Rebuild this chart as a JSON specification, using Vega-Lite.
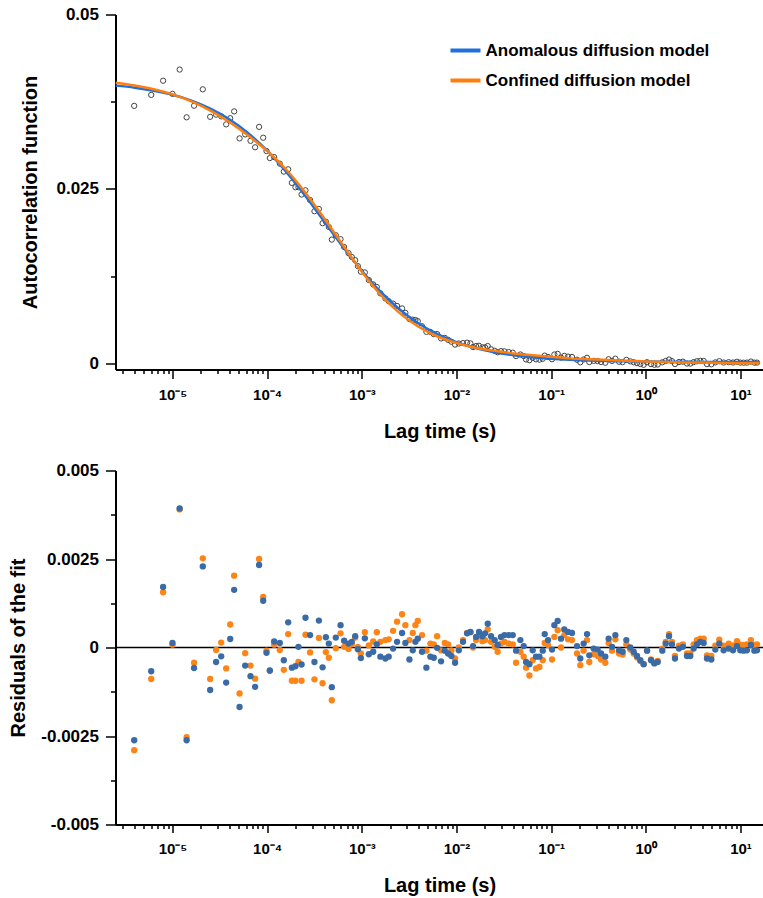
{
  "$schema": "https://vega.github.io/schema/vega-lite/v6.json",
  "padding": {"left": 7.5, "top": 5.5, "right": 0, "bottom": 0},
  "background": "white",
  "spacing": 20,
  "config": {
    "font": "Liberation Sans",
    "view": {"stroke": null},
    "axis": {
      "grid": false,
      "domainColor": "black",
      "domainWidth": 2,
      "tickColor": "black",
      "tickWidth": 1.5,
      "labelFont": "Liberation Sans",
      "labelFontWeight": "bold",
      "labelFontSize": 15,
      "labelColor": "black",
      "titleFont": "Liberation Sans",
      "titleFontWeight": "bold",
      "titleFontSize": 20,
      "titleColor": "black",
      "labelOverlap": false,
      "labelFlush": false
    }
  },
  "datasets": {
    "pts": [
      {"t": 3.94e-6, "g": 0.03691, "b": -0.00262, "o": -0.0029},
      {"t": 5.96e-6, "g": 0.03848, "b": -0.00067, "o": -0.00089},
      {"t": 7.96e-6, "g": 0.04051, "b": 0.00171, "o": 0.00156},
      {"t": 1.0e-5, "g": 0.03863, "b": 0.00013, "o": 0.00008},
      {"t": 1.19e-5, "g": 0.04211, "b": 0.00393, "o": 0.0039},
      {"t": 1.41e-5, "g": 0.03527, "b": -0.00262, "o": -0.00253},
      {"t": 1.69e-5, "g": 0.03693, "b": -0.00058, "o": -0.00043},
      {"t": 2.09e-5, "g": 0.03928, "b": 0.00229, "o": 0.00252},
      {"t": 2.5e-5, "g": 0.03534, "b": -0.0012, "o": -0.00089},
      {"t": 2.89e-5, "g": 0.03565, "b": -0.00041, "o": -0.00007},
      {"t": 3.27e-5, "g": 0.03541, "b": -0.00025, "o": 0.00014},
      {"t": 3.69e-5, "g": 0.03426, "b": -0.00099, "o": -0.00059},
      {"t": 4.07e-5, "g": 0.03514, "b": 0.00024, "o": 0.00065},
      {"t": 4.48e-5, "g": 0.03612, "b": 0.00163, "o": 0.00203},
      {"t": 5.11e-5, "g": 0.03225, "b": -0.00168, "o": -0.0013},
      {"t": 5.86e-5, "g": 0.03282, "b": -0.00051, "o": -0.00016},
      {"t": 6.67e-5, "g": 0.0319, "b": -0.00081, "o": -0.00051},
      {"t": 7.46e-5, "g": 0.03098, "b": -0.00111, "o": -0.00088},
      {"t": 8.22e-5, "g": 0.0339, "b": 0.00233, "o": 0.0025},
      {"t": 9.08e-5, "g": 0.03235, "b": 0.00132, "o": 0.00143},
      {"t": 9.84e-5, "g": 0.03044, "b": -0.00015, "o": -0.00009},
      {"t": 1.067e-4, "g": 0.02943, "b": -0.00065, "o": -0.00066},
      {"t": 1.186e-4, "g": 0.02957, "b": 0.00017, "o": 0.00008},
      {"t": 1.36e-4, "g": 0.02863, "b": 0.00013, "o": -0.00007},
      {"t": 1.5e-4, "g": 0.02749, "b": -0.00036, "o": -0.00063},
      {"t": 1.667e-4, "g": 0.02782, "b": 0.00071, "o": 0.00038},
      {"t": 1.824e-4, "g": 0.02587, "b": -0.00057, "o": -0.00094},
      {"t": 1.99e-4, "g": 0.02525, "b": -0.00053, "o": -0.00094},
      {"t": 2.14e-4, "g": 0.02526, "b": 0.00002, "o": -0.00041},
      {"t": 2.31e-4, "g": 0.02421, "b": -0.00048, "o": -0.00094},
      {"t": 2.54e-4, "g": 0.02481, "b": 0.00084, "o": 0.00036},
      {"t": 2.84e-4, "g": 0.02342, "b": 0.00035, "o": -0.00014},
      {"t": 3.16e-4, "g": 0.02181, "b": -0.00041, "o": -0.0009},
      {"t": 3.52e-4, "g": 0.02214, "b": 0.00076, "o": 0.00027},
      {"t": 3.85e-4, "g": 0.0201, "b": -0.00056, "o": -0.00101},
      {"t": 4.17e-4, "g": 0.02031, "b": 0.00029, "o": -0.00013},
      {"t": 4.48e-4, "g": 0.01956, "b": 0.00011, "o": -0.00029},
      {"t": 4.82e-4, "g": 0.01775, "b": -0.00112, "o": -0.00149},
      {"t": 5.31e-4, "g": 0.01838, "b": 0.00028, "o": -0.00002},
      {"t": 5.96e-4, "g": 0.01781, "b": 0.00063, "o": 0.0004},
      {"t": 6.5e-4, "g": 0.01669, "b": 0.00019, "o": 0.00002},
      {"t": 7.23e-4, "g": 0.01582, "b": 0.00011, "o": -0.00004},
      {"t": 7.83e-4, "g": 0.01526, "b": 0.00016, "o": 0.00009},
      {"t": 8.51e-4, "g": 0.0148, "b": 0.00032, "o": 0.00028},
      {"t": 9.08e-4, "g": 0.01395, "b": -0.00005, "o": 0.00002},
      {"t": 9.77e-4, "g": 0.01315, "b": -0.0003, "o": -0.00017},
      {"t": 1.076e-3, "g": 0.01305, "b": 0.00026, "o": 0.00043},
      {"t": 1.186e-3, "g": 0.01196, "b": -0.00019, "o": 0.00006},
      {"t": 1.318e-3, "g": 0.01133, "b": -0.00012, "o": 0.00017},
      {"t": 1.439e-3, "g": 0.01097, "b": 0.00009, "o": 0.00043},
      {"t": 1.571e-3, "g": 0.01005, "b": -0.00026, "o": 0.00016},
      {"t": 1.774e-3, "g": 0.00932, "b": -0.00031, "o": 0.00021},
      {"t": 1.923e-3, "g": 0.00893, "b": -0.00026, "o": 0.00023},
      {"t": 2.138e-3, "g": 0.00858, "b": -0.00003, "o": 0.00047},
      {"t": 2.355e-3, "g": 0.00825, "b": 0.00016, "o": 0.00073},
      {"t": 2.661e-3, "g": 0.00789, "b": 0.00041, "o": 0.00094},
      {"t": 2.884e-3, "g": 0.00726, "b": 0.00013, "o": 0.00063},
      {"t": 3.184e-3, "g": 0.00636, "b": -0.00034, "o": 0.00021},
      {"t": 3.451e-3, "g": 0.00627, "b": -0.00008, "o": 0.00041},
      {"t": 3.68e-3, "g": 0.00623, "b": 0.00016, "o": 0.00063},
      {"t": 3.9e-3, "g": 0.00607, "b": 0.00025, "o": 0.00075},
      {"t": 4.325e-3, "g": 0.005335, "b": -0.00012, "o": 0.00035},
      {"t": 4.81e-3, "g": 0.00453, "b": -0.00057, "o": -0.00009},
      {"t": 5.3e-3, "g": 0.00452, "b": -0.00026, "o": 0.00011},
      {"t": 5.75e-3, "g": 0.00421, "b": -0.00029, "o": 0.00009},
      {"t": 6.24e-3, "g": 0.00422, "b": -0.00001, "o": 0.00032},
      {"t": 6.87e-3, "g": 0.00359, "b": -0.00039, "o": -0.00008},
      {"t": 7.52e-3, "g": 0.00367, "b": -0.00009, "o": 0.00013},
      {"t": 8.15e-3, "g": 0.00339, "b": -0.00017, "o": 0.00009},
      {"t": 8.83e-3, "g": 0.00312, "b": -0.00024, "o": -0.00008},
      {"t": 9.66e-3, "g": 0.00271, "b": -0.00043, "o": -0.00031},
      {"t": 1.057e-2, "g": 0.00287, "b": -0.00008, "o": 0},
      {"t": 1.172e-2, "g": 0.00292, "b": 0.00016, "o": 0.00021},
      {"t": 1.294e-2, "g": 0.00298, "b": 0.0004, "o": 0.00041},
      {"t": 1.403e-2, "g": 0.00288, "b": 0.00044, "o": 0.00043},
      {"t": 1.496e-2, "g": 0.00236, "b": 0.00004, "o": 0},
      {"t": 1.61e-2, "g": 0.0025, "b": 0.0003, "o": 0.00021},
      {"t": 1.73e-2, "g": 0.00254, "b": 0.00044, "o": 0.00032},
      {"t": 1.879e-2, "g": 0.00231, "b": 0.00032, "o": 0.00018},
      {"t": 2.004e-2, "g": 0.00231, "b": 0.0004, "o": 0.00021},
      {"t": 2.138e-2, "g": 0.0025, "b": 0.00067, "o": 0.00051},
      {"t": 2.317e-2, "g": 0.00204, "b": 0.00032, "o": 0.00016},
      {"t": 2.535e-2, "g": 0.00182, "b": 0.00021, "o": 0.00002},
      {"t": 2.72e-2, "g": 0.00161, "b": 0.00007, "o": -0.00012},
      {"t": 2.95e-2, "g": 0.00177, "b": 0.0003, "o": 0.00011},
      {"t": 3.21e-2, "g": 0.00174, "b": 0.00035, "o": 0.00016},
      {"t": 3.56e-2, "g": 0.00164, "b": 0.00035, "o": 0.00011},
      {"t": 3.93e-2, "g": 0.00155, "b": 0.00035, "o": 0.00009},
      {"t": 4.26e-2, "g": 0.00106, "b": -0.00009, "o": -0.00043},
      {"t": 4.73e-2, "g": 0.00129, "b": 0.00021, "o": -0.00012},
      {"t": 5.13e-2, "g": 0.00107, "b": 0.00004, "o": -0.00026},
      {"t": 5.43e-2, "g": 0.00058, "b": -0.00041, "o": -0.00057},
      {"t": 5.89e-2, "g": 0.00047, "b": -0.00047, "o": -0.00079},
      {"t": 6.38e-2, "g": 0.00081, "b": -0.00008, "o": -0.00036},
      {"t": 6.92e-2, "g": 0.00059, "b": -0.00026, "o": -0.00059},
      {"t": 7.52e-2, "g": 0.00055, "b": -0.00026, "o": -0.00055},
      {"t": 8.15e-2, "g": 0.00068, "b": -0.00009, "o": -0.00036},
      {"t": 8.55e-2, "g": 0.00113, "b": 0.00038, "o": 0.00013},
      {"t": 9.27e-2, "g": 0.00093, "b": 0.00021, "o": 0.00007},
      {"t": 0.1021, "g": 0.00061, "b": -0.00006, "o": -0.00034},
      {"t": 0.1081, "g": 0.00129, "b": 0.00063, "o": 0.0003},
      {"t": 0.1172, "g": 0.00138, "b": 0.00075, "o": 0.00049},
      {"t": 0.127, "g": 0.00085, "b": 0.00025, "o": 0},
      {"t": 0.1377, "g": 0.00109, "b": 0.00051, "o": 0.00035},
      {"t": 0.1507, "g": 0.00099, "b": 0.00044, "o": 0.00023},
      {"t": 0.166, "g": 0.00093, "b": 0.00041, "o": 0.00021},
      {"t": 0.1875, "g": 0.00054, "b": 0.00004, "o": -0.00017},
      {"t": 0.2032, "g": 0.00017, "b": -0.00031, "o": -0.0005},
      {"t": 0.2203, "g": 0.00057, "b": 0.00011, "o": -0.00009},
      {"t": 0.2393, "g": 0.00082, "b": 0.00038, "o": 0.00021},
      {"t": 0.2529, "g": 0.00021, "b": -0.00022, "o": -0.00041},
      {"t": 0.2812, "g": 0.00038, "b": -0.00003, "o": -0.00019},
      {"t": 0.3097, "g": 0.00034, "b": -0.00006, "o": -0.00024},
      {"t": 0.3365, "g": 0.00022, "b": -0.00017, "o": -0.00034},
      {"t": 0.3733, "g": 0.00011, "b": -0.00026, "o": -0.00043},
      {"t": 0.4046, "g": 0.00061, "b": 0.00025, "o": 0.00013},
      {"t": 0.4395, "g": 0.00037, "b": 0.00002, "o": -0.00009},
      {"t": 0.4766, "g": 0.00069, "b": 0.00035, "o": 0.00023},
      {"t": 0.5212, "g": 0.00025, "b": -0.00008, "o": -0.00017},
      {"t": 0.5689, "g": 0.0002, "b": -0.00012, "o": -0.0002},
      {"t": 0.6223, "g": 0.00052, "b": 0.00021, "o": 0.00009},
      {"t": 0.6855, "g": 0.00031, "b": 0, "o": -0.00006},
      {"t": 0.7447, "g": 0.00018, "b": -0.00012, "o": -0.00017},
      {"t": 0.8072, "g": 0.00005, "b": -0.00024, "o": -0.00028},
      {"t": 0.875, "g": -0.00007, "b": -0.00036, "o": -0.00038},
      {"t": 0.9484, "g": -0.00019, "b": -0.00047, "o": -0.00047},
      {"t": 1.03, "g": 0.00018, "b": -0.00009, "o": -0.00009},
      {"t": 1.135, "g": -0.00009, "b": -0.00036, "o": -0.00034},
      {"t": 1.23, "g": -0.00018, "b": -0.00045, "o": -0.00043},
      {"t": 1.334, "g": -0.00015, "b": -0.00041, "o": -0.00038},
      {"t": 1.493, "g": 0.00017, "b": -0.00009, "o": -0.00003},
      {"t": 1.622, "g": 0.00036, "b": 0.00011, "o": 0.00016},
      {"t": 1.758, "g": 0.00057, "b": 0.00032, "o": 0.00038},
      {"t": 1.888, "g": 0.00034, "b": 0.00009, "o": 0.00016},
      {"t": 2.032, "g": -0.00007, "b": -0.00031, "o": -0.00024},
      {"t": 2.239, "g": 0.00021, "b": -0.00003, "o": 0.00005},
      {"t": 2.466, "g": 0.00026, "b": 0.00002, "o": 0.00009},
      {"t": 2.723, "g": -0.00001, "b": -0.00024, "o": -0.00017},
      {"t": 2.951, "g": -0.00001, "b": -0.00024, "o": -0.00017},
      {"t": 3.199, "g": 0.0002, "b": -0.00003, "o": 0.00009},
      {"t": 3.467, "g": 0.00032, "b": 0.00009, "o": 0.00021},
      {"t": 3.767, "g": 0.00039, "b": 0.00016, "o": 0.00025},
      {"t": 4.083, "g": 0.00036, "b": 0.00013, "o": 0.00025},
      {"t": 4.426, "g": -0.00009, "b": -0.00031, "o": -0.00022},
      {"t": 4.92, "g": -0.00012, "b": -0.00034, "o": -0.00024},
      {"t": 5.42, "g": 0.00016, "b": -0.00006, "o": 0.00005},
      {"t": 5.97, "g": 0.00033, "b": 0.00011, "o": 0.00022},
      {"t": 6.64, "g": 0.00014, "b": -0.00008, "o": 0.00005},
      {"t": 7.5, "g": 0.00019, "b": -0.00003, "o": 0.00011},
      {"t": 8.34, "g": 0.00014, "b": -0.00008, "o": 0.00006},
      {"t": 9.18, "g": 0.00025, "b": 0.00004, "o": 0.00018},
      {"t": 9.95, "g": 0.00013, "b": -0.00008, "o": 0.00008},
      {"t": 10.79, "g": 0.00012, "b": -0.00009, "o": 0.00007},
      {"t": 11.7, "g": 0.00013, "b": -0.00008, "o": 0.00009},
      {"t": 12.88, "g": 0.00028, "b": 0.00007, "o": 0.00021},
      {"t": 14.0, "g": 0.00012, "b": -0.00009, "o": 0.00007},
      {"t": 14.93, "g": 0.00013, "b": -0.00008, "o": 0.00009}
    ],
    "fit": [
      {"m": "Anomalous diffusion model", "t": 2.512e-6, "v": 0.03981},
      {"m": "Anomalous diffusion model", "t": 3.981e-6, "v": 0.03952},
      {"m": "Anomalous diffusion model", "t": 6.31e-6, "v": 0.03909},
      {"m": "Anomalous diffusion model", "t": 1e-5, "v": 0.0385},
      {"m": "Anomalous diffusion model", "t": 1.585e-5, "v": 0.03767},
      {"m": "Anomalous diffusion model", "t": 2.512e-5, "v": 0.03653},
      {"m": "Anomalous diffusion model", "t": 3.981e-5, "v": 0.035},
      {"m": "Anomalous diffusion model", "t": 6.31e-5, "v": 0.03301},
      {"m": "Anomalous diffusion model", "t": 1e-4, "v": 0.0305},
      {"m": "Anomalous diffusion model", "t": 1.585e-4, "v": 0.02749},
      {"m": "Anomalous diffusion model", "t": 2.512e-4, "v": 0.02406},
      {"m": "Anomalous diffusion model", "t": 3.981e-4, "v": 0.02039},
      {"m": "Anomalous diffusion model", "t": 6.31e-4, "v": 0.01672},
      {"m": "Anomalous diffusion model", "t": 1e-3, "v": 0.01328},
      {"m": "Anomalous diffusion model", "t": 1.585e-3, "v": 0.01025},
      {"m": "Anomalous diffusion model", "t": 2.512e-3, "v": 0.007734},
      {"m": "Anomalous diffusion model", "t": 3.981e-3, "v": 0.005731},
      {"m": "Anomalous diffusion model", "t": 6.31e-3, "v": 0.004195},
      {"m": "Anomalous diffusion model", "t": 1e-2, "v": 0.003051},
      {"m": "Anomalous diffusion model", "t": 1.585e-2, "v": 0.002216},
      {"m": "Anomalous diffusion model", "t": 2.512e-2, "v": 0.001617},
      {"m": "Anomalous diffusion model", "t": 3.981e-2, "v": 0.001191},
      {"m": "Anomalous diffusion model", "t": 6.31e-2, "v": 0.000891},
      {"m": "Anomalous diffusion model", "t": 0.1, "v": 0.00068},
      {"m": "Anomalous diffusion model", "t": 0.1585, "v": 0.000534},
      {"m": "Anomalous diffusion model", "t": 0.2512, "v": 0.000431},
      {"m": "Anomalous diffusion model", "t": 0.3981, "v": 0.00036},
      {"m": "Anomalous diffusion model", "t": 0.631, "v": 0.000311},
      {"m": "Anomalous diffusion model", "t": 1, "v": 0.000277},
      {"m": "Anomalous diffusion model", "t": 1.585, "v": 0.000253},
      {"m": "Anomalous diffusion model", "t": 2.512, "v": 0.000237},
      {"m": "Anomalous diffusion model", "t": 3.981, "v": 0.000226},
      {"m": "Anomalous diffusion model", "t": 6.31, "v": 0.000218},
      {"m": "Anomalous diffusion model", "t": 10, "v": 0.000212},
      {"m": "Anomalous diffusion model", "t": 15.85, "v": 0.000208},
      {"m": "Confined diffusion model", "t": 2.512e-6, "v": 0.04021},
      {"m": "Confined diffusion model", "t": 3.981e-6, "v": 0.03982},
      {"m": "Confined diffusion model", "t": 6.31e-6, "v": 0.03929},
      {"m": "Confined diffusion model", "t": 1e-5, "v": 0.03855},
      {"m": "Confined diffusion model", "t": 1.585e-5, "v": 0.03755},
      {"m": "Confined diffusion model", "t": 2.512e-5, "v": 0.03623},
      {"m": "Confined diffusion model", "t": 3.981e-5, "v": 0.0346},
      {"m": "Confined diffusion model", "t": 6.31e-5, "v": 0.03265},
      {"m": "Confined diffusion model", "t": 1e-4, "v": 0.03044},
      {"m": "Confined diffusion model", "t": 1.585e-4, "v": 0.02779},
      {"m": "Confined diffusion model", "t": 2.512e-4, "v": 0.02454},
      {"m": "Confined diffusion model", "t": 3.981e-4, "v": 0.02085},
      {"m": "Confined diffusion model", "t": 6.31e-4, "v": 0.01697},
      {"m": "Confined diffusion model", "t": 1e-3, "v": 0.01315},
      {"m": "Confined diffusion model", "t": 1.585e-3, "v": 0.00983},
      {"m": "Confined diffusion model", "t": 2.512e-3, "v": 0.007214},
      {"m": "Confined diffusion model", "t": 3.981e-3, "v": 0.005261},
      {"m": "Confined diffusion model", "t": 6.31e-3, "v": 0.003865},
      {"m": "Confined diffusion model", "t": 1e-2, "v": 0.002931},
      {"m": "Confined diffusion model", "t": 1.585e-2, "v": 0.002256},
      {"m": "Confined diffusion model", "t": 2.512e-2, "v": 0.001817},
      {"m": "Confined diffusion model", "t": 3.981e-2, "v": 0.001441},
      {"m": "Confined diffusion model", "t": 6.31e-2, "v": 0.001191},
      {"m": "Confined diffusion model", "t": 0.1, "v": 0.00096},
      {"m": "Confined diffusion model", "t": 0.1585, "v": 0.000734},
      {"m": "Confined diffusion model", "t": 0.2512, "v": 0.000611},
      {"m": "Confined diffusion model", "t": 0.3981, "v": 0.00051},
      {"m": "Confined diffusion model", "t": 0.631, "v": 0.000411},
      {"m": "Confined diffusion model", "t": 1, "v": 0.000277},
      {"m": "Confined diffusion model", "t": 1.585, "v": 0.000203},
      {"m": "Confined diffusion model", "t": 2.512, "v": 0.000157},
      {"m": "Confined diffusion model", "t": 3.981, "v": 0.000126},
      {"m": "Confined diffusion model", "t": 6.31, "v": 0.000088},
      {"m": "Confined diffusion model", "t": 10, "v": 0.000052},
      {"m": "Confined diffusion model", "t": 15.85, "v": 0.000058}
    ]
  },
  "vconcat": [
    {
      "width": 648,
      "height": 355,
      "layer": [
        {
          "data": {"name": "pts"},
          "mark": {"type": "point", "shape": "circle", "filled": false, "stroke": "#444444", "strokeWidth": 1, "size": 28, "opacity": 1},
          "encoding": {
            "x": {
              "field": "t", "type": "quantitative",
              "scale": {"type": "log", "domain": [2.5e-6, 17.5], "nice": false},
              "axis": {
                "title": "Lag time (s)",
                "values": [3e-6,4e-6,5e-6,6e-6,7e-6,8e-6,9e-6,1e-5,2e-5,3e-5,4e-5,5e-5,6e-5,7e-5,8e-5,9e-5,1e-4,2e-4,3e-4,4e-4,5e-4,6e-4,7e-4,8e-4,9e-4,1e-3,2e-3,3e-3,4e-3,5e-3,6e-3,7e-3,8e-3,9e-3,1e-2,2e-2,3e-2,4e-2,5e-2,6e-2,7e-2,8e-2,9e-2,0.1,0.2,0.3,0.4,0.5,0.6,0.7,0.8,0.9,1,2,3,4,5,6,7,8,9,10],
                "tickSize": {"condition": {"test": "abs(log(datum.value)/LN10 - round(log(datum.value)/LN10)) < 0.001", "value": 9}, "value": 4},
                "labelExpr": "abs(log(datum.value)/LN10 - round(log(datum.value)/LN10)) < 0.001 ? '10' + (round(log(datum.value)/LN10) < 0 ? '⁻' : '') + substring('⁰¹²³⁴⁵⁶⁷⁸⁹', abs(round(log(datum.value)/LN10)), abs(round(log(datum.value)/LN10)) + 1) : ''",
                "labelPadding": 9,
                "titleX": 324,
                "titleY": 62,
                "titleBaseline": "middle"
              }
            },
            "y": {
              "field": "g", "type": "quantitative",
              "scale": {"domain": [-0.00086, 0.05], "nice": false, "zero": false},
              "axis": {
                "title": "Autocorrelation function",
                "values": [0, 0.0125, 0.025, 0.0375, 0.05],
                "tickSize": {"condition": {"test": "datum.value == 0.0125 || datum.value == 0.0375", "value": 5}, "value": 10},
                "labelExpr": "datum.value == 0.0125 || datum.value == 0.0375 ? '' : datum.value + ''",
                "labelFontSize": 17,
                "labelPadding": 7,
                "titleX": -85,
                "titleY": 177.5,
                "titleBaseline": "middle"
              }
            }
          }
        },
        {
          "data": {"name": "fit"},
          "mark": {"type": "line", "strokeWidth": 2.5, "interpolate": "monotone"},
          "encoding": {
            "x": {"field": "t", "type": "quantitative"},
            "y": {"field": "v", "type": "quantitative"},
            "color": {
              "field": "m", "type": "nominal",
              "scale": {"domain": ["Anomalous diffusion model", "Confined diffusion model"], "range": ["#1f6fdc", "#ff7f0e"]},
              "legend": {
                "orient": "none",
                "legendX": 333,
                "legendY": 19,
                "title": null,
                "symbolType": "stroke",
                "symbolStrokeWidth": 4,
                "symbolSize": 900,
                "labelFont": "Liberation Sans",
                "labelFontSize": 17,
                "labelFontWeight": "bold",
                "labelColor": "black",
                "labelOffset": 3,
                "rowPadding": 5,
                "padding": 0,
                "labelLimit": 400
              }
            }
          }
        }
      ]
    },
    {
      "width": 648,
      "height": 354,
      "layer": [
        {
          "data": {"values": [{}]},
          "mark": {"type": "rule", "color": "black", "strokeWidth": 1.5},
          "encoding": {"y": {"datum": 0}}
        },
        {
          "data": {"name": "pts"},
          "mark": {"type": "circle", "size": 40, "color": "#fd8416", "opacity": 1},
          "encoding": {
            "x": {
              "field": "t", "type": "quantitative",
              "scale": {"type": "log", "domain": [2.5e-6, 17.5], "nice": false},
              "axis": {
                "title": "Lag time (s)",
                "values": [3e-6,4e-6,5e-6,6e-6,7e-6,8e-6,9e-6,1e-5,2e-5,3e-5,4e-5,5e-5,6e-5,7e-5,8e-5,9e-5,1e-4,2e-4,3e-4,4e-4,5e-4,6e-4,7e-4,8e-4,9e-4,1e-3,2e-3,3e-3,4e-3,5e-3,6e-3,7e-3,8e-3,9e-3,1e-2,2e-2,3e-2,4e-2,5e-2,6e-2,7e-2,8e-2,9e-2,0.1,0.2,0.3,0.4,0.5,0.6,0.7,0.8,0.9,1,2,3,4,5,6,7,8,9,10],
                "tickSize": {"condition": {"test": "abs(log(datum.value)/LN10 - round(log(datum.value)/LN10)) < 0.001", "value": 8}, "value": 4},
                "labelExpr": "abs(log(datum.value)/LN10 - round(log(datum.value)/LN10)) < 0.001 ? '10' + (round(log(datum.value)/LN10) < 0 ? '⁻' : '') + substring('⁰¹²³⁴⁵⁶⁷⁸⁹', abs(round(log(datum.value)/LN10)), abs(round(log(datum.value)/LN10)) + 1) : ''",
                "labelPadding": 9,
                "titleX": 324,
                "titleY": 61,
                "titleBaseline": "middle"
              }
            },
            "y": {
              "field": "o", "type": "quantitative",
              "scale": {"domain": [-0.005, 0.005], "nice": false, "zero": false},
              "axis": {
                "title": "Residuals of the fit",
                "values": [-0.005, -0.00375, -0.0025, -0.00125, 0, 0.00125, 0.0025, 0.00375, 0.005],
                "tickSize": {"condition": {"test": "abs(datum.value) == 0.00375 || abs(datum.value) == 0.00125", "value": 5}, "value": 10},
                "labelExpr": "abs(datum.value) == 0.00375 || abs(datum.value) == 0.00125 ? '' : datum.value + ''",
                "labelFontSize": 17,
                "labelPadding": 7,
                "titleX": -97.5,
                "titleY": 177,
                "titleBaseline": "middle"
              }
            }
          }
        },
        {
          "data": {"name": "pts"},
          "mark": {"type": "circle", "size": 40, "color": "#3a6ba6", "opacity": 1},
          "encoding": {
            "x": {"field": "t", "type": "quantitative"},
            "y": {"field": "b", "type": "quantitative"}
          }
        }
      ]
    }
  ]
}
